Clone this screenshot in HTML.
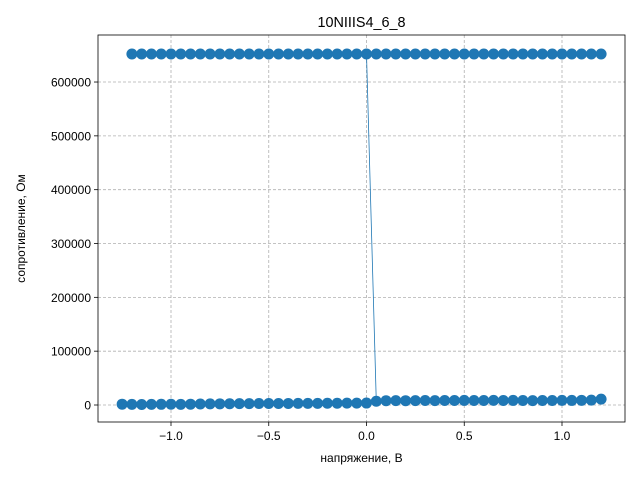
<!DOCTYPE html>
<html><head><meta charset="utf-8"><style>body{margin:0;background:#fff}svg{display:block;font-family:"Liberation Sans","DejaVu Sans",sans-serif}</style></head>
<body>
<svg id="c" width="640" height="480">
<rect x="0" y="0" width="640" height="480" fill="#fff"/>
</svg>
<script>
const topX = [];
for (let i = -24; i <= 24; i++) topX.push(i / 20);
const topY = topX.map(() => 652000);
const botX = [];
for (let i = -25; i <= 24; i++) botX.push(i / 20);
const botY = [1500,1200,1000,1100,1300,1400,1200,1500,1800,2000,2200,2400,2500,2600,2700,2800,2700,2900,3000,3100,3000,3200,3300,3400,3500,3600,7000,8000,8200,8000,8100,8300,8200,8400,8300,8500,8400,8300,8600,8400,8500,8300,8200,8400,8300,8600,8500,8700,9000,11000];
const xTicks = [-1.0,-0.5,0.0,0.5,1.0];
const xTickLabels = ["−1.0","−0.5","0.0","0.5","1.0"];
const yTicks = [0,100000,200000,300000,400000,500000,600000];
const yTickLabels = ["0","100000","200000","300000","400000","500000","600000"];

const L=98,R=625,T=35,B=422;
const sx = v => 366.5 + v*195.5;
const sy = v => 405 - v*0.0005383;
const svg = document.getElementById('c');
const NS='http://www.w3.org/2000/svg';
function mk(tag, attrs, parent){const e=document.createElementNS(NS,tag);for(const k in attrs)e.setAttribute(k,attrs[k]);(parent||svg).appendChild(e);return e;}

const grid = mk('g',{});


xTicks.forEach((t,i)=>{
  mk('line',{x1:sx(t),x2:sx(t),y1:T,y2:B,stroke:'#b0b0b0','stroke-dasharray':'3,2','stroke-width':0.8},grid);
  mk('line',{x1:sx(t),x2:sx(t),y1:B,y2:B+4,stroke:'#000','stroke-width':0.8});
  const tx=mk('text',{x:sx(t),y:B+18,'text-anchor':'middle','font-size':12});
  tx.textContent=xTickLabels[i];
  
  
});
yTicks.forEach((t,i)=>{
  mk('line',{x1:L,x2:R,y1:sy(t),y2:sy(t),stroke:'#b0b0b0','stroke-dasharray':'3,2','stroke-width':0.8},grid);
  mk('line',{x1:L-4,x2:L,y1:sy(t),y2:sy(t),stroke:'#000','stroke-width':0.8});
  const tx=mk('text',{x:L-7,y:sy(t)+4.5,'text-anchor':'end','font-size':12});
  tx.textContent=yTickLabels[i];
  
  
});

// line: top row to 0, jump to bottom, continue
let pts=[];
topX.forEach((x,i)=>{ if(x<=0.0001) pts.push(sx(x)+','+sy(topY[i])); });
botX.forEach((x,i)=>{ if(x>0.0001) pts.push(sx(x)+','+sy(botY[i])); });
const line=mk('polyline',{points:pts.join(' '),fill:'none',stroke:'#1f77b4','stroke-width':0.8});



const g=mk('g',{fill:'#1f77b4'});


topX.forEach((x,i)=>{const c=mk('circle',{cx:sx(x),cy:sy(topY[i]),r:5.5},g);

});
botX.forEach((x,i)=>{const c=mk('circle',{cx:sx(x),cy:sy(botY[i]),r:5.5},g);

});

const fr=mk('rect',{x:L,y:T,width:R-L,height:B-T,fill:'none',stroke:'#000','stroke-width':0.8});



const ti=mk('text',{x:(L+R)/2,y:T-8,'text-anchor':'middle','font-size':14.4});
ti.textContent='10NIIIS4_6_8';


const xl=mk('text',{x:(L+R)/2,y:462,'text-anchor':'middle','font-size':12});
xl.textContent='напряжение, В';


const yl=mk('text',{x:0,y:0,'text-anchor':'middle','font-size':12,transform:'translate(25,'+((T+B)/2)+') rotate(-90)'});
yl.textContent='сопротивление, Ом';


</script>
</body></html>
